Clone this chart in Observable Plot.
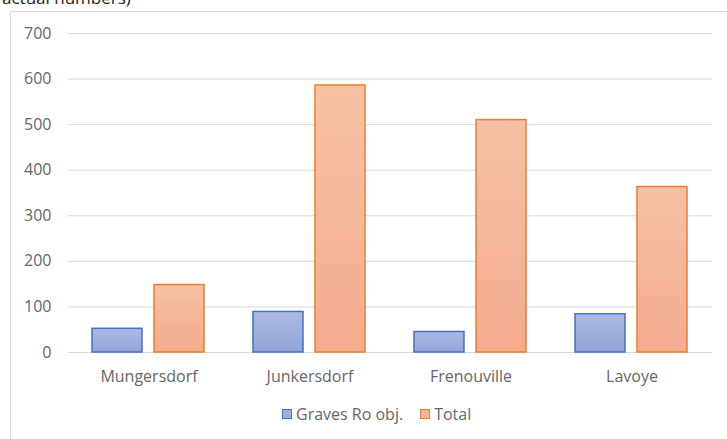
<!DOCTYPE html>
<html>
<head>
<meta charset="utf-8">
<script src="https://cdn.jsdelivr.net/npm/d3@7"></script>
<script src="https://cdn.jsdelivr.net/npm/@observablehq/plot@0.6"></script>
<style>
  html, body { margin: 0; padding: 0; background: #fff; }
  #wrap { position: relative; width: 727px; height: 439px; overflow: hidden; font-family: "Open Sans", sans-serif; }
  #frame { position: absolute; left: 10px; top: 11px; width: 730px; height: 440px; border-left: 1px solid #d9d9d9; border-top: 1px solid #d9d9d9; box-sizing: border-box; }
  #title { position: absolute; left: 2px; top: -14px; font-size: 17px; color: #222; white-space: nowrap; }
  #chart { position: absolute; left: 0; top: 0; }
  #legend { position: absolute; left: 282px; top: 403px; font-size: 16px; color: #666; display: flex; align-items: center; white-space: nowrap; }
  .sw { width: 10px; height: 10px; box-sizing: border-box; border: 1.5px solid; margin-right: 4px; }
  .item { display: flex; align-items: center; margin-right: 17px; }
</style>
</head>
<body>
<div id="wrap">
  <div id="frame"></div>
  <div id="title">actual numbers)</div>
  <div id="chart"></div>
  <div id="legend"></div>
</div>
<script>
const categories = ["Mungersdorf", "Junkersdorf", "Frenouville", "Lavoye"];
const seriesNames = ["Graves Ro obj.", "Total"];
const gravesRo = [52, 89, 45, 84];
const total = [148, 586, 510, 363];
const yTicks = [0, 100, 200, 300, 400, 500, 600, 700];

const fills = ["url(#gBlue)", "url(#gOrange)"];
const strokes = ["#4472c4", "#ed7d31"];
const swatchFills = ["#a0b0dd", "#f5b597"];

const rowsA = categories.map((c, i) => ({site: c, series: seriesNames[0], value: gravesRo[i]}));
const rowsB = categories.map((c, i) => ({site: c, series: seriesNames[1], value: total[i]}));

const plot = Plot.plot({
  width: 727,
  height: 439,
  marginLeft: 68,
  marginRight: 15,
  marginTop: 33,
  marginBottom: 87,
  style: {fontFamily: "'Open Sans', sans-serif", fontSize: "16px", color: "#666", background: "transparent", overflow: "visible"},
  x: {domain: categories, padding: 0},
  y: {domain: [0, 700]},
  marks: [
    Plot.ruleY(yTicks, {stroke: "#d9d9d9", strokeWidth: 1}),
    Plot.barY(rowsA, {x: "site", y: "value", fill: fills[0], stroke: strokes[0], strokeWidth: 1.5, insetLeft: 24, insetRight: 87}),
    Plot.barY(rowsB, {x: "site", y: "value", fill: fills[1], stroke: strokes[1], strokeWidth: 1.5, insetLeft: 86, insetRight: 25}),
    Plot.axisY({ticks: yTicks, tickSize: 0, tickPadding: 17, label: null, fontSize: 16}),
    Plot.axisX({tickSize: 0, tickPadding: 18, label: null, fontSize: 16})
  ]
});

const ns = "http://www.w3.org/2000/svg";
const defs = document.createElementNS(ns, "defs");
defs.innerHTML = `
  <linearGradient id="gBlue" x1="0" y1="0" x2="0" y2="1">
    <stop offset="0" stop-color="#abb9e2"/><stop offset="1" stop-color="#93a4d8"/>
  </linearGradient>
  <linearGradient id="gOrange" x1="0" y1="0" x2="0" y2="1">
    <stop offset="0" stop-color="#f7c1a6"/><stop offset="1" stop-color="#f3ab8c"/>
  </linearGradient>`;
plot.insertBefore(defs, plot.firstChild);
document.getElementById("chart").appendChild(plot);

const legend = document.getElementById("legend");
seriesNames.forEach((s, i) => {
  const item = document.createElement("div");
  item.className = "item";
  const sw = document.createElement("div");
  sw.className = "sw";
  sw.style.background = swatchFills[i];
  sw.style.borderColor = strokes[i];
  const t = document.createElement("span");
  t.textContent = s;
  item.appendChild(sw);
  item.appendChild(t);
  legend.appendChild(item);
});
</script>
</body>
</html>
